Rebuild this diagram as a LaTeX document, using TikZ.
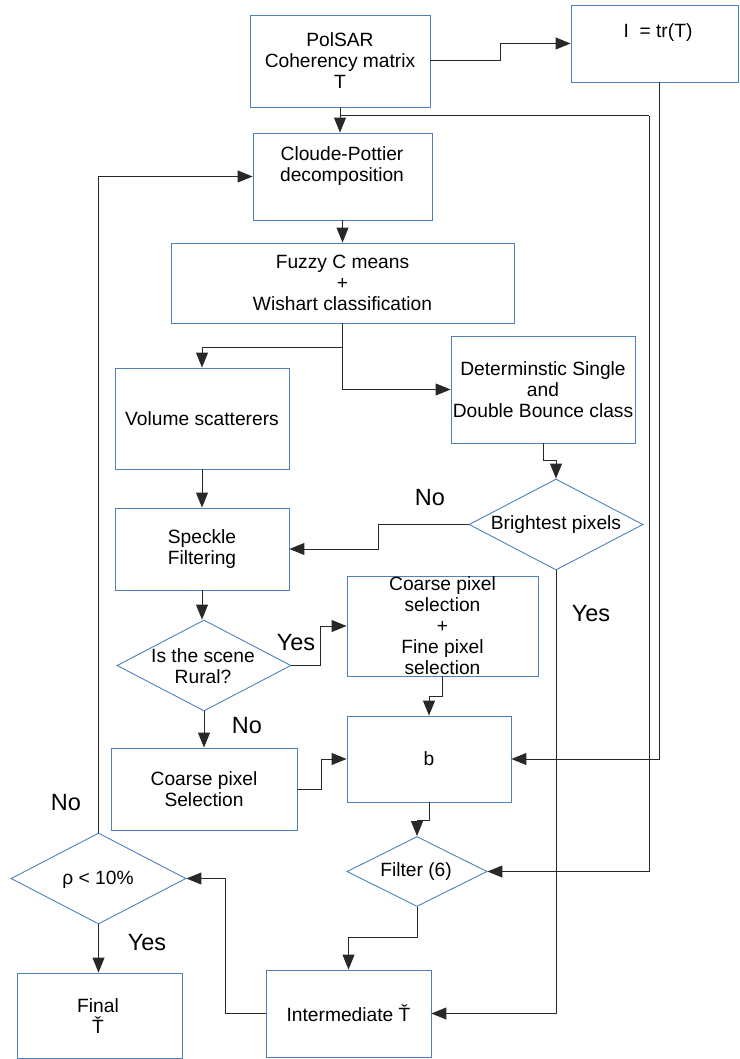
\documentclass[tikz,border=0pt]{standalone}
\usepackage{fontspec}
\setmainfont{Liberation Sans}
\usetikzlibrary{arrows.meta,shapes.geometric}
\definecolor{boxblue}{RGB}{79,129,189}
\definecolor{linegray}{RGB}{40,40,40}
\tikzset{
  box/.style={draw=boxblue, line width=0.9pt, rectangle, inner sep=0pt, align=center,
    font=\fontsize{19.2}{21}\selectfont},
  dia/.style={draw=boxblue, line width=0.9pt, diamond, inner sep=0pt},
  txt/.style={inner sep=0pt, align=center, font=\fontsize{19.2}{21}\selectfont},
  lab/.style={inner sep=0pt, font=\fontsize{23.5}{26}\selectfont},
  arr/.style={draw=linegray, line width=1pt, -{Triangle[length=15pt,width=12pt]}},
  ln/.style={draw=linegray, line width=1pt},
}
\begin{document}
\begin{tikzpicture}[x=1pt,y=-1pt]
\useasboundingbox (0,0) rectangle (739,1059);
\fill[white] (0,0) rectangle (739,1059);

% boxes
\node[box, minimum width=180pt, minimum height=92pt] (polsar) at (340,61) {PolSAR\\Coherency matrix\\T};
\node[box, minimum width=167pt, minimum height=77pt] (ibox) at (654.5,43.5) {};
\node[txt] (iboxT) at (658,33) {I\ \ = tr(T)};
\node[box, minimum width=179pt, minimum height=87pt] (cloude) at (342.5,176.5) {};
\node[txt] (cloudeT) at (342,166.5) {Cloude-Pottier\\decomposition};
\node[box, minimum width=343pt, minimum height=80pt] (fuzzy) at (342.5,283) {Fuzzy C means\\+\\Wishart classification};
\node[box, minimum width=184pt, minimum height=107pt] (determ) at (543,389.5) {Determinstic Single\\and\\Double Bounce class};
\node[box, minimum width=174pt, minimum height=101pt] (volume) at (202,418.5) {Volume scatterers};
\node[box, minimum width=174pt, minimum height=82pt] (speckle) at (202,549) {Speckle\\Filtering};
\node[box, minimum width=191pt, minimum height=100pt] (cfbox) at (442.5,626) {Coarse pixel\\selection\\+\\Fine pixel\\selection};
\node[box, minimum width=164pt, minimum height=86pt] (bbox) at (429,759) {b};
\node[box, minimum width=186pt, minimum height=82pt] (csel) at (204,789) {Coarse pixel\\Selection};
\node[box, minimum width=165pt, minimum height=85pt] (final) at (99.5,1015.5) {};
\node[txt] (finalT) at (98,1016.5) {Final\\Ť};
\node[box, minimum width=165pt, minimum height=87pt] (inter) at (348.5,1013.5) {Intermediate Ť};

% diamonds
\node[dia, minimum width=174pt, minimum height=91pt] (bright) at (556,524.5) {};
\node[txt] (brightT) at (556,525) {Brightest pixels};
\node[dia, minimum width=174pt, minimum height=91pt] (rural) at (204,665.5) {};
\node[txt] (ruralT) at (203,666) {Is the scene\\Rural?};
\node[dia, minimum width=140pt, minimum height=70pt] (filter) at (417,871.5) {};
\node[txt] (filterT) at (416,872) {Filter (6)};
\node[dia, minimum width=175pt, minimum height=91pt] (rho) at (98.5,878.5) {};
\node[txt] (rhoT) at (98,880) {ρ < 10\%};

% labels
\node[lab] (no1) at (430,498) {No};
\node[lab] (yes1) at (296,643) {Yes};
\node[lab] (no2) at (247,726) {No};
\node[lab] (yes2) at (591,614) {Yes};
\node[lab] (no3) at (66,803) {No};
\node[lab] (yes3) at (147,943) {Yes};

% connectors
\coordinate (loopTL) at (340,116);
\coordinate (loopTR) at (649,116);
\coordinate (iout) at (659,82);

\draw[arr] (polsar.east) -- ++(70,0) |- (ibox.west);
\draw[arr] (polsar.south) -- (polsar.south |- cloude.north);
\draw[ln] (loopTL) -- (loopTR);
\draw[arr] (loopTR) |- (filter.east);
\draw[arr] (iout) |- (bbox.east);
\draw[arr] (cloude.south) -- (fuzzy.north);
\draw[arr] (fuzzy.south) -- ++(0,24) -| (volume.north);
\draw[arr] (fuzzy.south) |- (determ.west);
\draw[arr] (determ.south) -- ++(0,17) -| (bright.north);
\draw[arr] (bright.west) -- ++(-90,0) |- (speckle.east);
\draw[arr] (bright.south) |- (inter.east);
\draw[arr] (volume.south) -- (speckle.north);
\draw[arr] (speckle.south) -- (speckle.south |- rural.north);
\draw[arr] (rural.east) -- ++(29,0) |- (cfbox.west);
\draw[arr] (rural.south) -- (csel.north);
\draw[arr] (cfbox.south) -- ++(0,20) -| (bbox.north);
\draw[arr] (csel.east) -- ++(24,0) |- (bbox.west);
\draw[arr] (bbox.south) -- ++(0,18) -| (filter.north);
\draw[arr] (filter.south) -- ++(0,31) -| (inter.north);
\draw[arr] (inter.west) -- ++(-40,0) |- (rho.east);
\draw[arr] (rho.south) -- (rho.south |- final.north);
\draw[arr] (rho.north) |- (cloude.west);
\end{tikzpicture}
\end{document}
